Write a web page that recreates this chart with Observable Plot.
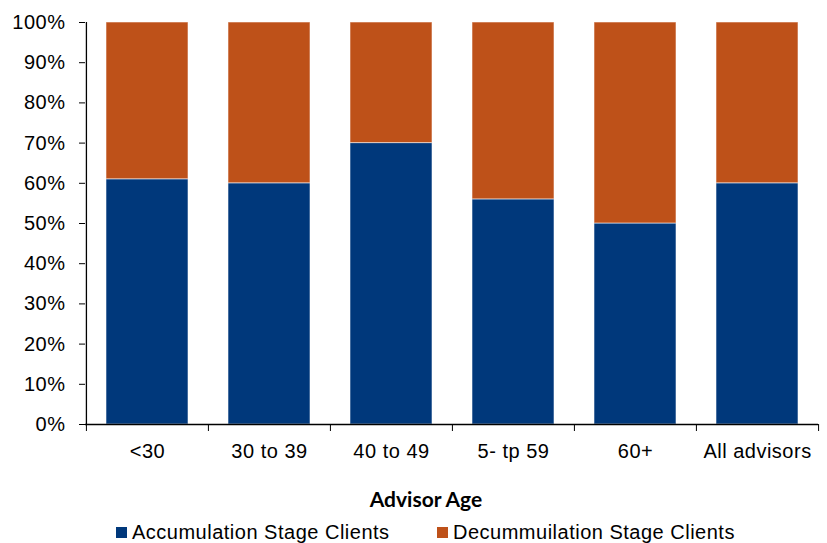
<!DOCTYPE html>
<html><head><meta charset="utf-8">
<script src="https://cdn.jsdelivr.net/npm/d3@7"></script>
<script src="https://cdn.jsdelivr.net/npm/@observablehq/plot@0.6"></script>
<style>
body{margin:0;background:#fff;}
#wrap{position:relative;width:827px;height:543px;overflow:hidden;font-family:"Liberation Sans",Arial,sans-serif;color:#000;}
#title{position:absolute;left:226px;width:400px;top:488px;text-align:center;font-family:Lato,sans-serif;font-weight:bold;font-size:21px;line-height:21px;}
.lg{position:absolute;top:522px;font-size:20px;line-height:20px;letter-spacing:0.5px;white-space:nowrap;}
.sw{position:absolute;top:527px;width:11px;height:11px;}
</style></head><body>
<div id="wrap"><div id="chart"></div><div id="title"></div><div id="legend"></div></div>
<script>
const categories = ["<30","30 to 39","40 to 49","5- tp 59","60+","All advisors"];
const accumulation = [61,60,70,56,50,60];
const decumulation = [39,40,30,44,50,40];
const seriesNames = ["Accumulation Stage Clients","Decummuilation Stage Clients"];
const seriesColors = ["#00387b","#be5119"];
const yTicks = [0,10,20,30,40,50,60,70,80,90,100];
const xTitle = "Advisor Age";

const data = [];
categories.forEach((c,i)=>{
  data.push({cat:c, series:seriesNames[0], value:accumulation[i]});
  data.push({cat:c, series:seriesNames[1], value:decumulation[i]});
});

const W = 827, H = 470, mL = 85, mR = 9, mT = 22, mB = 46;
const step = (W - mL - mR) / categories.length;

const chart = Plot.plot({
  width: W, height: H,
  marginLeft: mL, marginRight: mR, marginTop: mT, marginBottom: mB,
  style: {fontFamily: '"Liberation Sans", Arial, sans-serif', fontSize: "20px", color: "#000", background: "#fff", letterSpacing: "0.5px"},
  x: {type: "band", domain: categories, paddingInner: 0.33, paddingOuter: 0.165, label: null},
  y: {domain: [0,100], label: null},
  color: {domain: seriesNames, range: seriesColors},
  marks: [
    Plot.barY(data, Plot.stackY({x: "cat", y: "value", fill: "series", order: seriesNames, stroke: "#fff", strokeOpacity: 0.55, strokeWidth: 1})),
    Plot.ruleY([0], {stroke: "#000", strokeWidth: 1.3}),
    Plot.ruleX([categories[0]], {y1: 0, y2: 100, dx: -step/2, stroke: "#000", strokeWidth: 1.3}),
    Plot.axisY({ticks: yTicks, tickSize: 6, tickPadding: 14, tickFormat: d => d + "%", fontSize: 20}),
    Plot.axisX({tickSize: 0, tickPadding: 19, fontSize: 20}),
    Plot.axisX({tickSize: 7, tickFormat: () => "", dx: -step/2}),
    Plot.axisX({ticks: [categories[categories.length-1]], tickSize: 7, tickFormat: () => "", dx: step/2})
  ]
});
document.getElementById("chart").appendChild(chart);
document.getElementById("title").textContent = xTitle;

const legend = document.getElementById("legend");
const swLeft = [116, 437], txLeft = [132, 453];
seriesNames.forEach((s,i)=>{
  const sw = document.createElement("div");
  sw.className = "sw"; sw.style.left = swLeft[i] + "px"; sw.style.background = seriesColors[i];
  const tx = document.createElement("div");
  tx.className = "lg"; tx.style.left = txLeft[i] + "px"; tx.textContent = s;
  legend.appendChild(sw); legend.appendChild(tx);
});
</script>
</body></html>
